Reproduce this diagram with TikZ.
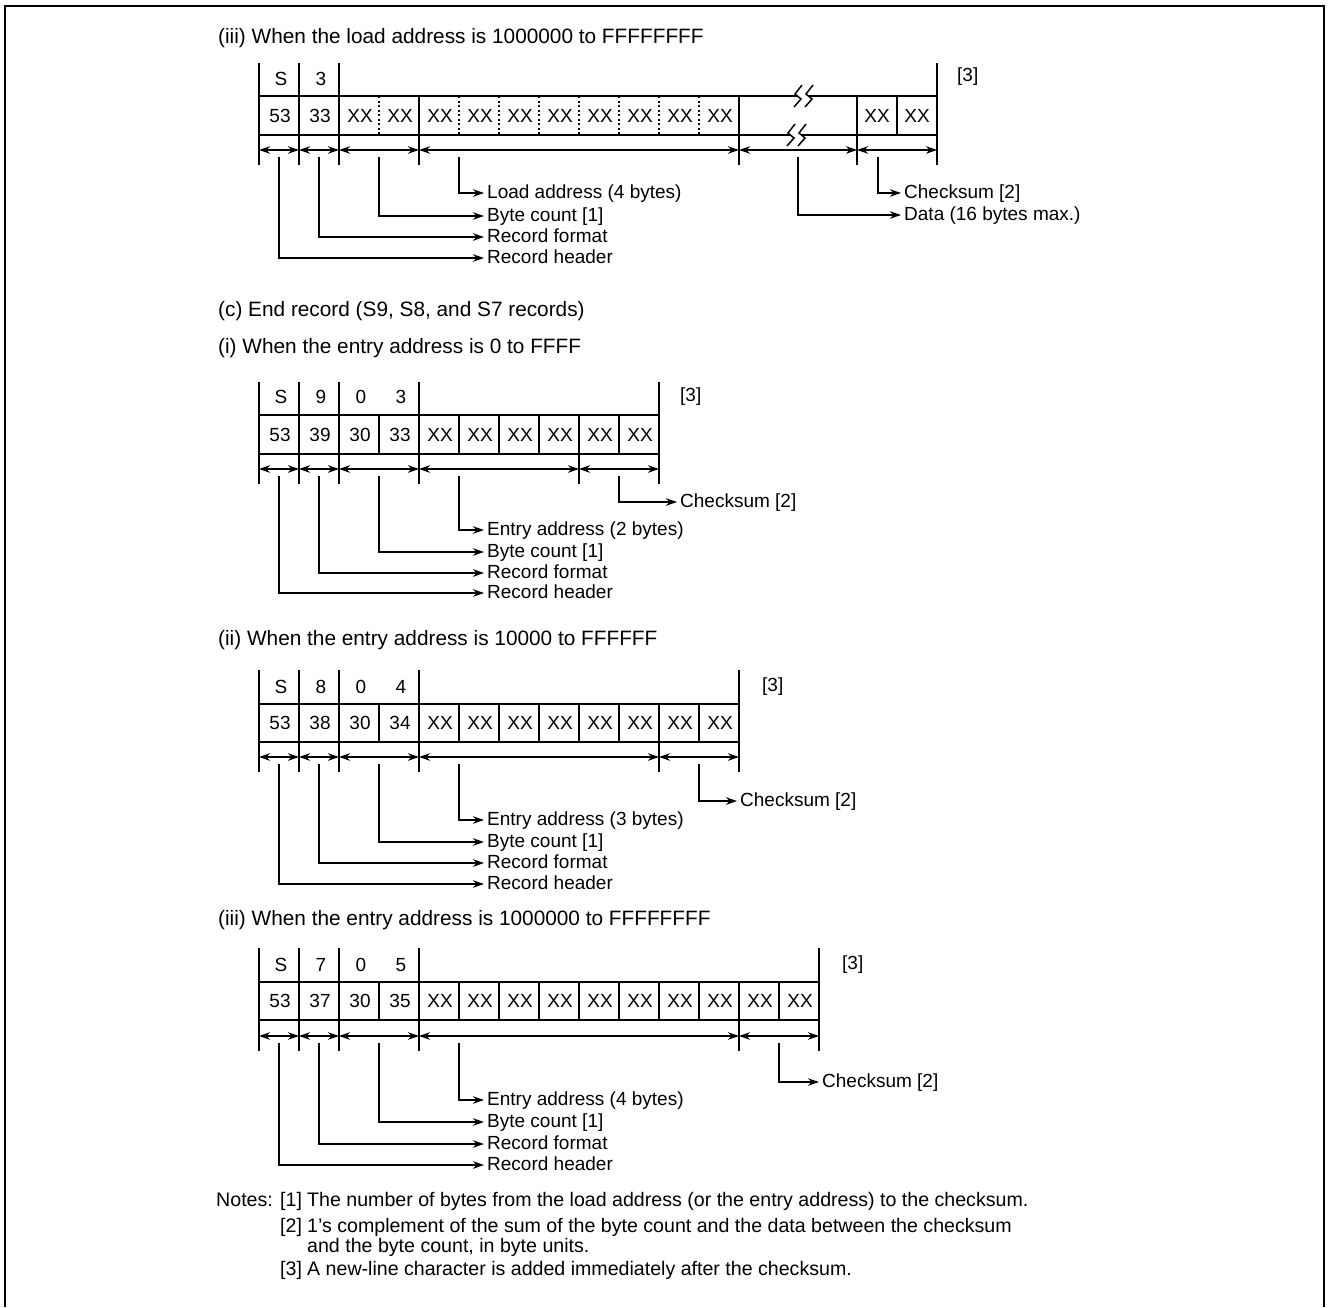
\documentclass[tikz,border=0pt]{standalone}
\usepackage{fontspec}
\setmainfont{Liberation Sans}
\usetikzlibrary{arrows.meta}
\newcommand{\lbsize}{\fontsize{19}{21}\selectfont}
\newcommand{\hdsize}{\fontsize{20.8}{23}\selectfont}
\newcommand{\ntsize}{\fontsize{19.6}{22}\selectfont}
\tikzset{
  txt/.style={font=\lbsize, inner sep=0pt, text height=13.5pt, text depth=3.5pt},
  lbl/.style={txt, anchor=west, inner xsep=3pt},
  heading/.style={txt, anchor=west, font=\hdsize},
  notetxt/.style={txt, anchor=west, font=\ntsize},
  rec/.style={line width=1.8pt},
  dotsep/.style={line width=1.5pt, dash pattern=on 2pt off 2.5pt},
  dimarr/.style={{Stealth[length=11pt,width=7.5pt]}-{Stealth[length=11pt,width=7.5pt]}, line width=1.4pt},
  lead/.style={-{Stealth[length=11pt,width=7.5pt]}, line width=1.4pt},
  brk/.pic={
    \draw[line width=1.5pt] (4,-11) -- (-3,-2) -- (3,3) -- (-4,11);
    \draw[line width=1.5pt] (15,-11) -- (8,-2) -- (14,3) -- (7,11);
  }
}
\begin{document}
\begin{tikzpicture}[x=1pt,y=-1pt]
\useasboundingbox (0,0) rectangle (1328,1307);
\draw[line width=2pt] (5,1307) -- (5,6) -- (1324,6) -- (1324,1307);

% (iii) load address record
\node[heading] (ttl1) at (218,38) {(iii) When the load address is 1000000 to FFFFFFFF};
\foreach \x in {259,299,339,937} \draw[rec] (\x,63) -- (\x,165);
\foreach \x in {419,739,857} \draw[rec] (\x,96) -- (\x,165);
\draw[rec] (897,96) -- (897,135);
\foreach \x in {379,459,499,539,579,619,659,699} \draw[dotsep] (\x,96) -- (\x,135);
\draw[rec] (259,96) -- (797,96) (808,96) -- (937,96);
\draw[rec] (259,135) -- (790,135) (801,135) -- (937,135);
\pic at (798,96) {brk};
\pic at (791,135) {brk};
\node[txt] (h1s) at (281,80) {S};
\node[txt] (h1f) at (321,80) {3};
\foreach \t [count=\i] in {53,33,XX,XX,XX,XX,XX,XX,XX,XX,XX,XX}
  \node[txt] (a\i) at (240+40*\i,117) {\t};
\node[txt] (a13) at (877,117) {XX};
\node[txt] (a14) at (917,117) {XX};
\node[lbl, inner xsep=0pt] (nl1) at (957,76) {[3]};
\foreach \a/\b in {259/299,299/339,339/419,419/739,739/857,857/937}
  \draw[dimarr] (\a,150) -- (\b,150);
\node[lbl] (la1) at (484,193) {Load address (4 bytes)};
\node[lbl] (lb1) at (484,216) {Byte count [1]};
\node[lbl] (lf1) at (484,237) {Record format};
\node[lbl] (lh1) at (484,258) {Record header};
\node[lbl] (lc1) at (901,193) {Checksum [2]};
\node[lbl] (ld1) at (901,215) {Data (16 bytes max.)};
\draw[lead] (459,157) |- (la1.west);
\draw[lead] (379,157) |- (lb1.west);
\draw[lead] (319,157) |- (lf1.west);
\draw[lead] (279,157) |- (lh1.west);
\draw[lead] (878,157) |- (lc1.west);
\draw[lead] (798,157) |- (ld1.west);

% (c) end records
\node[heading] (ttlc) at (218,311) {(c) End record (S9, S8, and S7 records)};

% (i) S9
\node[heading] (ttl2) at (218,348) {(i) When the entry address is 0 to FFFF};
\foreach \x in {259,299,339,419,659} \draw[rec] (\x,382) -- (\x,484);
\foreach \x in {379,459,499,539,619} \draw[rec] (\x,415) -- (\x,454);
\draw[rec] (579,415) -- (579,484);
\draw[rec] (259,415) -- (659,415) (259,454) -- (659,454);
\foreach \t [count=\i] in {S,9,0,3}
  \node[txt] (g\i) at (241+40*\i,398) {\t};
\foreach \t [count=\i] in {53,39,30,33,XX,XX,XX,XX,XX,XX}
  \node[txt] (b\i) at (240+40*\i,436) {\t};
\node[lbl, inner xsep=0pt] (nl2) at (680,396) {[3]};
\foreach \a/\b in {259/299,299/339,339/419,419/579,579/659}
  \draw[dimarr] (\a,469) -- (\b,469);
\node[lbl] (lc2) at (677,502) {Checksum [2]};
\node[lbl] (le2) at (484,530) {Entry address (2 bytes)};
\node[lbl] (lb2) at (484,552) {Byte count [1]};
\node[lbl] (lf2) at (484,573) {Record format};
\node[lbl] (lh2) at (484,593) {Record header};
\draw[lead] (619,476) |- (lc2.west);
\draw[lead] (459,476) |- (le2.west);
\draw[lead] (379,476) |- (lb2.west);
\draw[lead] (319,476) |- (lf2.west);
\draw[lead] (279,476) |- (lh2.west);

% (ii) S8
\node[heading] (ttl3) at (218,640) {(ii) When the entry address is 10000 to FFFFFF};
\foreach \x in {259,299,339,419,739} \draw[rec] (\x,670) -- (\x,772);
\foreach \x in {379,459,499,539,579,619,699} \draw[rec] (\x,704) -- (\x,742);
\draw[rec] (659,704) -- (659,772);
\draw[rec] (259,704) -- (739,704) (259,742) -- (739,742);
\foreach \t [count=\i] in {S,8,0,4}
  \node[txt] (k\i) at (241+40*\i,688) {\t};
\foreach \t [count=\i] in {53,38,30,34,XX,XX,XX,XX,XX,XX,XX,XX}
  \node[txt] (c\i) at (240+40*\i,724) {\t};
\node[lbl, inner xsep=0pt] (nl3) at (762,686) {[3]};
\foreach \a/\b in {259/299,299/339,339/419,419/659,659/739}
  \draw[dimarr] (\a,757) -- (\b,757);
\node[lbl] (lc3) at (737,801) {Checksum [2]};
\node[lbl] (le3) at (484,820) {Entry address (3 bytes)};
\node[lbl] (lb3) at (484,842) {Byte count [1]};
\node[lbl] (lf3) at (484,863) {Record format};
\node[lbl] (lh3) at (484,884) {Record header};
\draw[lead] (699,764) |- (lc3.west);
\draw[lead] (459,764) |- (le3.west);
\draw[lead] (379,764) |- (lb3.west);
\draw[lead] (319,764) |- (lf3.west);
\draw[lead] (279,764) |- (lh3.west);

% (iii) S7
\node[heading] (ttl4) at (218,920) {(iii) When the entry address is 1000000 to FFFFFFFF};
\foreach \x in {259,299,339,419,819} \draw[rec] (\x,948) -- (\x,1051);
\foreach \x in {379,459,499,...,699,779} \draw[rec] (\x,982) -- (\x,1020);
\draw[rec] (739,982) -- (739,1051);
\draw[rec] (259,982) -- (819,982) (259,1020) -- (819,1020);
\foreach \t [count=\i] in {S,7,0,5}
  \node[txt] (m\i) at (241+40*\i,966) {\t};
\foreach \t [count=\i] in {53,37,30,35,XX,XX,XX,XX,XX,XX,XX,XX,XX,XX}
  \node[txt] (d\i) at (240+40*\i,1002) {\t};
\node[lbl, inner xsep=0pt] (nl4) at (842,964) {[3]};
\foreach \a/\b in {259/299,299/339,339/419,419/739,739/819}
  \draw[dimarr] (\a,1036) -- (\b,1036);
\node[lbl] (lc4) at (819,1082) {Checksum [2]};
\node[lbl] (le4) at (484,1100) {Entry address (4 bytes)};
\node[lbl] (lb4) at (484,1122) {Byte count [1]};
\node[lbl] (lf4) at (484,1144) {Record format};
\node[lbl] (lh4) at (484,1165) {Record header};
\draw[lead] (779,1043) |- (lc4.west);
\draw[lead] (459,1043) |- (le4.west);
\draw[lead] (379,1043) |- (lb4.west);
\draw[lead] (319,1043) |- (lf4.west);
\draw[lead] (279,1043) |- (lh4.west);

% notes
\node[notetxt] (nts) at (216,1201) {Notes:};
\node[notetxt] (n1) at (280,1201) {[1]};
\node[notetxt] (n1t) at (307,1201) {The number of bytes from the load address (or the entry address) to the checksum.};
\node[notetxt] (n2) at (280,1227) {[2]};
\node[notetxt] (n2t) at (307,1227) {1's complement of the sum of the byte count and the data between the checksum};
\node[notetxt] (n2u) at (307,1247) {and the byte count, in byte units.};
\node[notetxt] (n3) at (280,1270) {[3]};
\node[notetxt] (n3t) at (307,1270) {A new-line character is added immediately after the checksum.};
\end{tikzpicture}
\end{document}
